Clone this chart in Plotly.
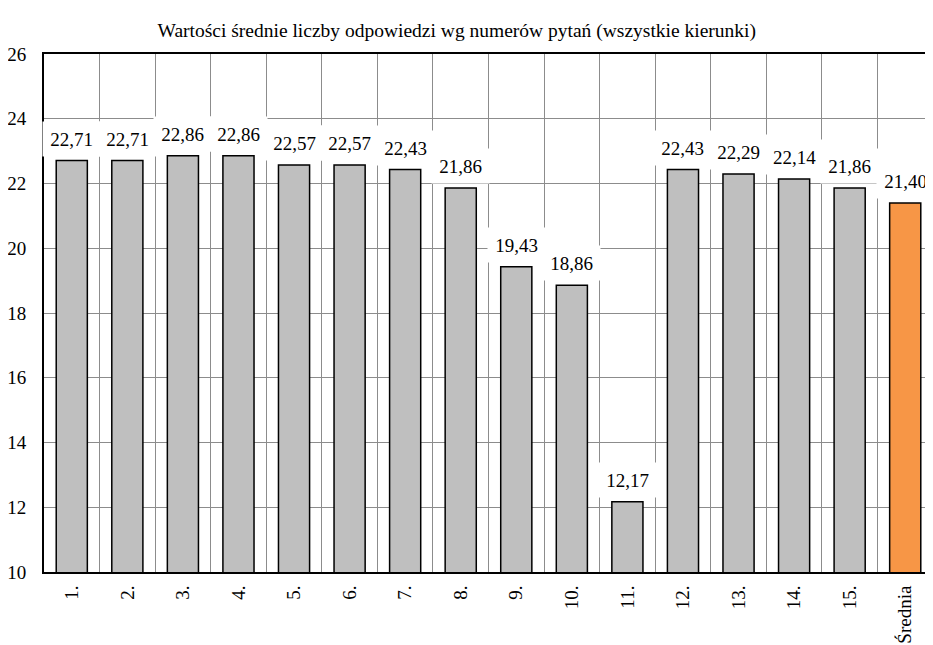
import plotly.graph_objects as go

categories = ["1.", "2.", "3.", "4.", "5.", "6.", "7.", "8.", "9.", "10.",
              "11.", "12.", "13.", "14.", "15.", "Średnia"]
values = [22.71, 22.71, 22.86, 22.86, 22.57, 22.57, 22.43, 21.86, 19.43, 18.86,
          12.17, 22.43, 22.29, 22.14, 21.86, 21.40]
value_labels = ["22,71", "22,71", "22,86", "22,86", "22,57", "22,57", "22,43", "21,86",
                "19,43", "18,86", "12,17", "22,43", "22,29", "22,14", "21,86", "21,40"]
colors = ["#BFBFBF"] * 15 + ["#F79646"]
y_ticks = [10, 12, 14, 16, 18, 20, 22, 24, 26]
title = "Wartości średnie liczby odpowiedzi wg numerów pytań (wszystkie kierunki)"

FONT = "Liberation Serif"
GRID = "#8c8c8c"

fig = go.Figure()
fig.add_trace(go.Bar(
    x=categories, y=values,
    marker=dict(color=colors, line=dict(color="#000000", width=1.5)),
    width=0.56,
    hoverinfo="skip",
))

for i, (v, t) in enumerate(zip(values, value_labels)):
    fig.add_annotation(
        x=i, y=v, text=t, showarrow=False,
        yanchor="bottom", yshift=4,
        width=55, height=32, valign="middle",
        bgcolor="white",
        font=dict(family=FONT, size=19, color="#000000"),
    )

fig.update_layout(
    width=933, height=645,
    margin=dict(l=36, r=8, t=46, b=81),
    paper_bgcolor="white", plot_bgcolor="white",
    showlegend=False,
    font=dict(family=FONT, size=19, color="#000000"),
    title=dict(
        text=title, x=0.481, xref="container", xanchor="center",
        y=1 - 22 / 645, yref="container", yanchor="middle",
        font=dict(family=FONT, size=19.5, color="#000000"),
    ),
)

fig.update_xaxes(
    type="category",
    tickson="boundaries",
    showgrid=True, gridcolor=GRID, gridwidth=1.2,
    showline=True, linecolor="#000000", linewidth=2, mirror=True,
    ticks="", tickangle=-90,
    tickfont=dict(family=FONT, size=19, color="#000000"),
    ticklabelstandoff=4,
    range=[-0.5, 15.5],
    automargin=False,
)
fig.update_yaxes(
    range=[10, 26],
    tickvals=y_ticks,
    showgrid=True, gridcolor=GRID, gridwidth=1.2,
    showline=True, linecolor="#000000", linewidth=2, mirror=True,
    ticks="", zeroline=False,
    tickfont=dict(family=FONT, size=19, color="#000000"),
    ticklabelstandoff=12,
    automargin=False,
)

fig.write_html("out.html")
